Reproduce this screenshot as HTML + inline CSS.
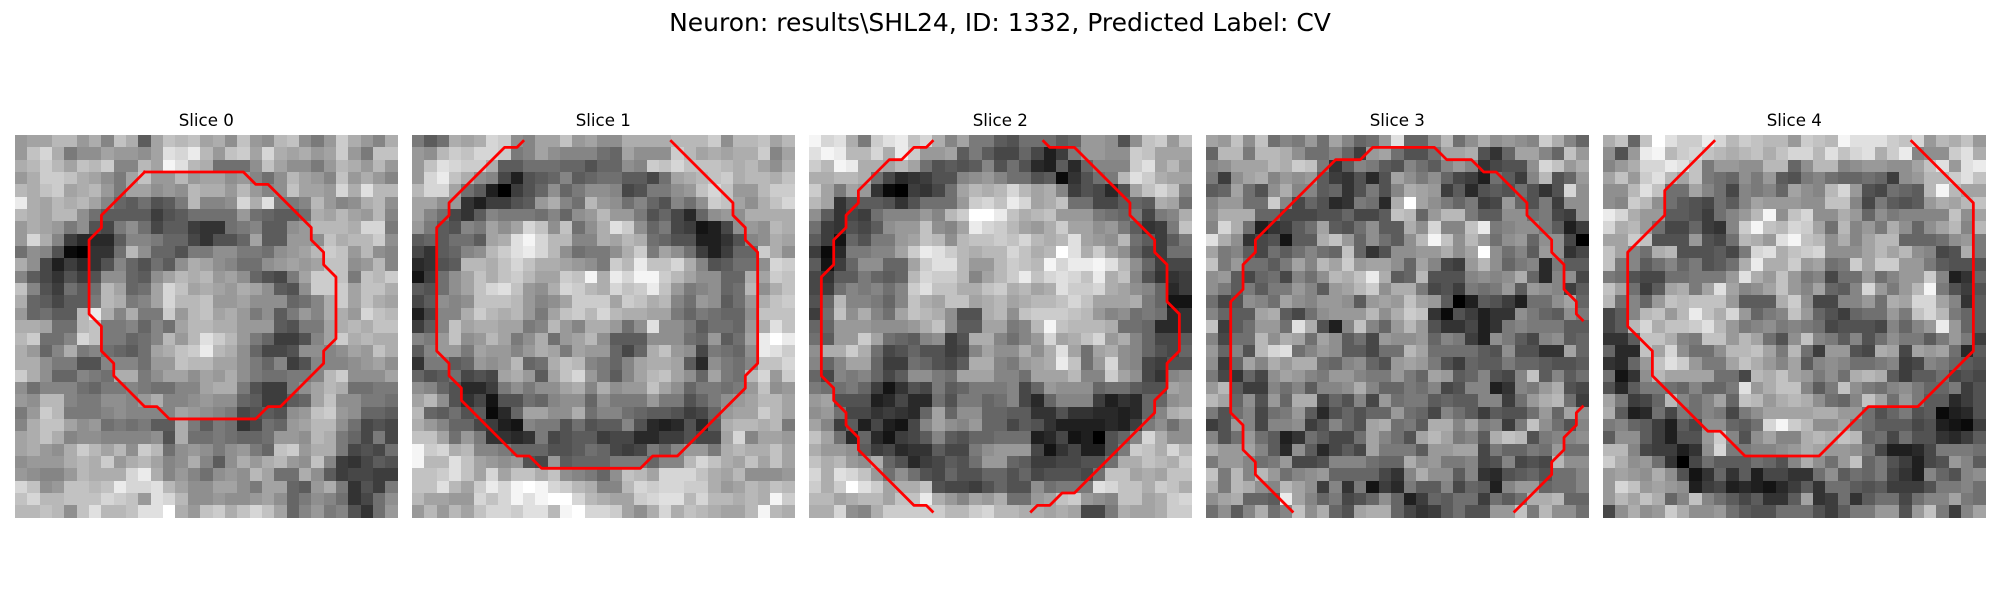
<!DOCTYPE html>
<html lang="en">
<head>
<meta charset="utf-8">
<title>Neuron slices</title>
<style>
html,body{margin:0;padding:0;background:#fff;width:2000px;height:600px;overflow:hidden}
svg{display:block}
text{font-family:"DejaVu Sans","Liberation Sans",sans-serif;fill:#000}
</style>
</head>
<body>
<svg id="figure" xmlns="http://www.w3.org/2000/svg" width="2000" height="600" viewBox="0 0 2000 600">
<rect x="0" y="0" width="2000" height="600" fill="#fff"/>
<text x="1000" y="31" font-size="25" text-anchor="middle">Neuron: results\SHL24, ID: 1332, Predicted Label: CV</text>
<text x="206.3" y="126" font-size="16.67" text-anchor="middle">Slice 0</text>
<text x="603.3" y="126" font-size="16.67" text-anchor="middle">Slice 1</text>
<text x="1000.3" y="126" font-size="16.67" text-anchor="middle">Slice 2</text>
<text x="1397.3" y="126" font-size="16.67" text-anchor="middle">Slice 3</text>
<text x="1794.3" y="126" font-size="16.67" text-anchor="middle">Slice 4</text>
</svg>
<script>
const slice0 = [
[15,16,16,18,18,15,17,13,19,17,9,16,19,18,19,16,17,14,19,15,14,18,19,14,12,15,20,17,15,13,17],
[15,19,21,17,12,14,14,16,15,15,14,16,22,21,23,18,15,19,20,16,21,17,16,17,15,16,20,15,12,19,19],
[17,18,20,18,16,19,18,20,13,13,18,16,24,22,18,17,11,11,11,14,19,16,14,14,12,15,18,17,15,18,15],
[15,17,20,20,19,17,16,14,12,16,19,15,15,18,15,16,16,14,15,13,11,14,18,16,15,13,19,15,17,15,13],
[18,17,19,20,16,17,18,15,12,16,16,14,15,14,18,17,17,15,18,15,13,14,19,16,16,15,21,17,22,18,18],
[23,17,16,18,17,18,16,13,10,9,11,8,9,12,18,13,13,14,21,17,22,12,12,13,18,15,13,14,17,18,14],
[18,17,16,18,18,14,11,9,9,9,9,6,8,9,11,11,11,11,15,11,10,9,9,11,17,16,18,16,15,18,13],
[15,17,16,15,12,14,8,7,12,14,11,7,9,9,6,5,5,11,12,13,9,9,14,15,18,18,18,17,21,21,12],
[15,21,17,13,6,4,4,4,9,13,13,12,10,10,7,5,8,8,10,16,9,9,15,15,14,19,17,18,18,20,14],
[11,14,13,8,1,0,5,5,11,18,14,10,10,8,12,12,14,14,12,12,11,14,15,16,18,20,19,15,18,14,13],
[17,14,7,3,6,4,5,8,13,10,8,11,9,14,17,16,14,13,11,11,14,15,16,15,16,19,19,14,15,18,13],
[13,9,7,5,8,6,8,14,14,10,9,14,16,18,17,18,15,16,14,10,8,7,12,16,20,20,19,12,19,18,20],
[19,13,8,6,11,9,11,18,16,10,11,16,21,19,16,17,16,15,17,16,14,9,8,14,20,20,20,16,19,19,17],
[17,10,9,7,9,9,12,18,17,12,13,16,21,18,18,19,15,15,16,14,14,14,10,11,13,17,20,16,19,17,16],
[15,10,11,9,9,18,23,17,13,17,12,12,20,15,18,19,16,17,15,12,14,9,12,15,13,17,17,15,21,19,18],
[17,17,16,11,11,18,19,12,12,13,10,13,11,16,18,18,17,17,15,15,15,9,8,12,12,16,17,18,17,19,19],
[18,20,11,11,13,21,19,12,12,10,11,13,18,15,18,22,20,18,15,12,10,6,6,8,13,16,20,17,18,17,17],
[17,15,10,13,17,12,13,11,10,9,11,16,17,19,20,23,18,17,14,10,7,7,8,14,14,13,14,16,15,19,17],
[17,17,14,12,12,8,8,13,13,13,11,15,15,19,18,18,16,16,14,12,10,13,6,8,13,13,13,14,15,16,14],
[20,17,14,10,10,13,12,11,17,17,12,14,16,16,14,16,15,17,14,12,11,11,12,12,13,18,20,14,14,14,16],
[14,11,13,13,13,11,10,12,12,13,12,11,11,13,13,16,17,17,12,8,6,6,12,14,16,18,17,11,11,12,12],
[15,14,18,18,13,12,12,14,14,13,15,17,13,13,14,15,14,14,10,9,6,6,9,10,16,19,14,14,12,12,11],
[12,15,20,18,12,12,12,13,14,13,13,13,13,16,15,14,13,12,7,8,9,8,14,15,19,20,15,14,10,10,9],
[13,17,19,19,16,14,15,11,12,11,12,9,9,17,12,9,12,11,5,7,11,10,15,16,18,18,14,11,7,8,7],
[16,17,19,17,13,14,14,13,13,13,13,14,8,17,11,11,12,11,10,10,11,15,15,14,18,17,12,10,7,12,7],
[16,17,15,14,17,20,18,16,18,14,20,18,11,14,15,14,12,14,15,12,10,19,20,15,17,17,12,7,8,7,11],
[14,15,15,15,17,18,17,20,15,17,18,16,13,14,17,13,9,14,17,15,17,18,15,14,19,13,6,5,7,9,8],
[15,14,13,13,15,18,17,17,17,21,23,17,13,15,13,11,14,15,14,18,16,11,11,17,14,9,6,7,7,6,6],
[21,19,14,15,19,19,18,19,23,21,21,22,18,16,14,14,16,16,14,12,16,16,10,9,15,17,12,5,8,6,12],
[19,21,18,18,19,19,19,21,20,19,15,22,21,18,14,14,15,14,14,15,16,14,10,12,14,13,11,5,7,11,14],
[18,18,19,18,14,19,22,18,18,19,22,22,25,17,15,19,20,17,19,21,19,16,10,13,15,12,13,8,5,11,15]
];
const slice1 = [
[12,9,11,17,16,17,21,20,14,13,16,16,19,15,16,14,14,17,17,17,17,18,18,18,20,14,18,18,19,16,18],
[15,14,18,20,19,21,21,20,12,13,16,14,13,13,13,11,10,16,14,14,14,20,18,16,17,16,17,17,20,13,16],
[15,19,22,21,20,20,17,9,9,11,11,11,10,10,8,10,10,14,13,20,19,21,19,19,19,18,17,18,16,14,17],
[15,21,23,19,17,14,13,7,3,8,9,10,13,9,10,11,11,9,9,7,11,16,17,18,19,20,17,18,18,17,19],
[18,21,21,16,11,9,3,0,6,8,10,14,10,12,14,14,13,7,8,12,12,14,15,19,21,19,15,15,18,20,20],
[16,16,14,15,5,3,6,6,8,9,15,17,13,11,18,15,14,11,13,10,8,13,11,14,20,19,16,14,17,19,21],
[16,13,11,7,5,9,13,12,12,12,11,13,10,14,15,18,15,15,12,8,10,7,4,10,14,15,14,17,17,17,17],
[15,12,9,8,13,12,16,14,16,21,19,14,19,11,14,17,22,20,14,10,12,7,6,2,3,7,14,15,14,18,17],
[9,10,9,11,11,9,16,17,22,24,21,18,18,13,13,17,16,18,17,11,10,8,8,3,3,5,8,13,14,17,16],
[7,5,9,10,13,14,18,20,22,23,21,18,14,11,12,12,14,17,20,12,16,14,11,6,3,6,10,10,20,17,14],
[4,5,8,9,18,18,17,19,21,19,17,17,16,15,14,12,20,18,23,19,19,21,17,13,8,9,11,11,14,21,20],
[2,6,11,14,16,19,17,19,20,18,16,16,20,19,24,17,23,21,24,24,20,18,16,14,14,10,10,17,16,20,19],
[9,8,11,14,16,19,21,22,19,15,14,17,21,20,18,17,21,19,20,23,19,15,12,13,14,10,11,18,14,17,19],
[7,9,14,13,14,19,19,19,18,15,13,14,16,20,20,20,16,20,19,17,18,13,11,15,14,9,11,15,17,19,20],
[3,7,13,13,17,20,18,17,18,15,12,16,19,20,18,21,18,17,17,16,16,12,10,12,11,10,10,14,19,19,19],
[6,9,13,19,16,17,17,16,16,12,13,18,15,13,17,17,15,11,14,22,14,14,12,9,11,11,10,15,17,22,19],
[13,12,15,19,14,15,18,16,12,14,17,11,15,16,18,14,9,9,9,14,14,14,11,10,15,9,11,16,23,25,23],
[9,13,15,15,12,16,15,15,13,15,17,16,12,16,15,15,10,7,10,17,19,15,14,7,12,11,10,14,23,22,20],
[5,12,12,9,10,15,14,15,18,10,11,17,19,18,13,12,10,13,16,17,17,16,9,4,14,12,11,13,19,19,21],
[10,8,9,11,7,8,7,16,17,15,9,16,19,21,15,12,9,13,16,18,19,16,14,10,16,12,11,18,21,15,20],
[14,13,10,8,4,4,6,12,14,12,14,14,16,17,13,17,14,15,15,19,16,14,10,12,12,11,12,15,19,14,15],
[16,18,14,8,5,7,2,8,8,11,10,13,14,14,10,14,12,12,12,15,12,12,8,10,12,14,15,16,18,18,16],
[18,10,9,11,8,9,1,4,10,16,16,14,14,17,11,13,13,11,10,9,9,8,6,7,10,15,16,16,20,18,16],
[17,15,13,10,10,7,6,3,2,13,12,12,8,11,8,9,9,13,8,4,3,4,8,4,9,17,18,18,17,18,12],
[19,19,16,11,15,12,5,5,4,5,12,7,8,9,9,6,7,7,4,4,6,6,8,7,7,16,21,13,16,16,15],
[24,20,21,17,18,13,13,12,10,10,10,8,8,9,11,10,7,6,7,12,10,13,15,15,12,17,18,17,17,19,16],
[24,18,18,22,19,16,15,14,15,8,7,15,9,10,10,10,12,12,12,10,13,13,18,21,19,17,16,19,16,19,16],
[19,19,20,22,19,16,21,16,19,19,17,19,14,13,12,10,14,19,18,16,21,21,21,19,17,16,18,14,14,14,15],
[19,19,22,18,16,20,23,21,24,25,24,21,20,18,17,13,13,18,21,20,21,21,20,20,17,15,16,18,17,19,18],
[18,16,16,15,15,21,19,21,24,22,24,25,25,21,18,17,16,16,20,21,22,22,18,21,18,18,17,18,17,24,20],
[15,18,15,18,16,19,21,21,20,22,22,18,24,25,21,21,20,16,14,17,21,17,19,18,17,16,16,18,24,18,17]
];
const slice2 = [
[24,21,22,17,12,20,22,23,19,21,17,13,16,12,12,9,8,11,11,11,9,10,15,15,14,8,14,19,20,15,19],
[22,24,23,18,18,21,17,23,20,15,15,16,9,12,9,7,7,10,7,3,6,12,15,15,14,14,20,19,16,16,16],
[20,18,24,23,17,17,16,18,16,11,8,9,8,9,13,8,11,8,4,3,9,4,10,13,13,13,20,22,16,18,15],
[17,17,18,18,17,11,7,4,5,6,8,8,13,14,15,13,11,11,8,9,1,5,8,11,12,18,22,20,17,16,16],
[20,16,12,16,15,5,1,0,6,5,7,11,16,18,17,18,21,18,16,17,13,6,8,7,4,8,16,19,21,19,13],
[18,16,5,8,9,9,8,5,8,11,11,11,15,20,21,19,23,21,16,17,19,11,11,7,7,9,10,9,17,16,11],
[14,9,5,7,6,11,13,13,13,15,13,18,20,25,25,23,19,17,18,19,15,15,15,12,11,10,12,7,12,13,17],
[11,6,5,8,7,9,14,15,15,19,14,13,16,23,21,20,18,16,15,17,20,16,16,14,15,12,9,5,6,12,19],
[9,6,2,10,8,12,12,15,16,19,18,14,18,19,19,20,19,21,18,17,18,22,16,15,14,18,11,9,6,9,12],
[6,1,4,12,12,13,13,16,20,23,22,20,18,17,18,18,21,19,17,18,25,22,17,20,16,14,10,7,6,11,11],
[9,2,6,10,14,14,10,10,16,20,22,22,18,15,15,18,20,19,18,24,21,23,23,24,22,18,14,10,6,7,7],
[7,5,9,9,12,10,9,10,18,21,20,20,18,13,16,18,20,23,19,21,22,21,19,23,17,19,13,8,5,5,6],
[7,6,11,13,12,13,11,13,20,22,19,19,17,17,19,20,17,18,16,17,22,20,20,21,17,16,14,13,10,4,6],
[8,10,18,13,13,12,10,13,19,17,16,19,19,16,17,18,16,17,18,18,19,21,19,16,16,16,17,12,10,2,2],
[6,11,19,14,17,13,11,16,19,18,17,14,8,8,17,18,14,19,20,20,20,19,18,15,13,14,11,12,11,4,5],
[10,10,15,15,15,14,14,14,15,17,19,14,9,9,16,16,12,13,18,24,19,18,18,18,17,11,11,10,4,4,5],
[11,9,15,15,20,16,11,10,9,13,14,6,8,17,17,13,11,13,15,21,16,17,19,21,15,17,13,10,7,7,9],
[14,17,17,20,17,11,7,8,10,8,8,6,7,13,16,14,14,17,14,17,22,16,11,16,17,14,13,10,8,7,10],
[13,10,13,16,16,10,6,6,11,10,8,7,9,17,17,13,12,15,16,17,23,19,11,15,21,14,13,7,6,8,8],
[10,7,13,12,13,10,7,9,14,14,12,11,16,16,16,13,13,11,16,16,16,18,13,13,20,16,14,7,5,13,14],
[12,11,11,12,10,6,2,5,8,7,12,9,10,12,12,12,13,7,10,15,14,14,14,10,11,11,9,8,8,16,15],
[15,16,8,8,8,3,4,7,4,4,11,8,12,12,10,11,13,7,4,10,13,13,13,6,3,5,4,10,10,14,15],
[14,15,11,7,7,5,6,5,4,10,16,10,14,14,10,10,9,9,5,5,8,5,5,4,4,3,4,10,13,17,18],
[16,13,6,9,3,7,3,2,7,13,16,14,13,15,10,10,7,9,8,5,3,3,3,3,4,3,6,12,14,11,14],
[19,16,11,4,10,4,2,6,7,9,13,9,8,10,10,11,11,11,3,4,7,2,3,0,8,10,13,21,17,14,14],
[17,15,15,14,9,6,7,4,5,5,9,7,7,12,14,15,15,15,7,2,5,7,3,3,8,12,20,19,17,21,18],
[19,17,18,15,14,17,10,8,4,6,7,9,8,11,15,15,10,9,6,6,7,7,8,8,11,17,17,19,18,17,20],
[21,17,22,21,19,15,11,14,11,8,7,10,8,8,10,10,8,10,7,8,8,8,7,11,19,19,16,17,16,19,19],
[20,17,20,25,22,20,16,17,17,19,8,7,7,6,8,10,8,8,14,11,12,12,12,22,21,19,19,17,20,19,17],
[18,18,16,17,18,18,16,19,19,23,17,15,13,16,15,17,11,11,15,16,19,20,15,14,13,19,19,16,17,20,21],
[17,17,21,14,13,17,20,20,20,20,20,18,18,20,21,18,18,17,17,16,17,16,7,7,12,17,16,16,17,20,20]
];
const slice3 = [
[16,15,19,14,19,11,13,12,15,11,16,13,10,11,15,22,10,10,14,18,11,14,17,14,15,14,13,20,17,13,10],
[10,18,18,12,18,18,17,14,11,11,13,10,6,15,16,11,8,8,11,16,16,17,8,5,10,16,16,13,10,19,15],
[13,14,16,16,16,18,17,20,19,12,5,9,13,12,9,8,13,11,9,13,15,13,5,7,8,8,14,21,19,15,17],
[12,6,14,16,17,13,15,14,15,9,6,5,8,4,8,16,14,12,14,10,7,6,3,11,9,6,13,18,8,10,15],
[9,10,16,11,8,14,17,13,13,9,10,5,8,12,8,13,17,16,15,6,9,4,8,9,8,11,8,5,8,21,14],
[13,15,15,11,11,20,13,7,10,8,4,5,12,11,4,17,25,16,14,12,10,12,6,7,15,10,8,12,6,14,14],
[14,17,17,17,10,10,7,7,7,8,8,10,7,7,9,19,18,10,15,18,18,12,9,9,14,14,11,12,7,6,14],
[13,21,17,11,3,5,6,9,11,16,9,8,11,14,9,9,17,14,21,13,13,19,23,12,13,14,14,12,9,3,6],
[22,17,14,5,7,8,2,9,9,17,19,15,10,14,11,9,14,18,24,19,14,18,15,11,14,15,10,14,14,7,0],
[16,12,13,9,7,11,9,11,13,11,10,19,10,5,8,14,14,15,15,17,14,16,25,14,11,13,9,15,14,5,7],
[19,12,15,11,11,9,12,16,13,18,16,20,15,16,16,14,10,16,13,7,6,15,18,14,10,12,13,4,12,9,9],
[14,15,9,7,10,11,7,13,11,14,18,17,19,23,17,9,10,18,8,8,8,13,14,13,14,17,10,4,13,14,7],
[14,12,9,12,9,12,12,15,13,9,15,16,18,20,14,17,17,12,7,8,6,12,11,12,15,9,15,14,13,6,9],
[11,7,8,14,13,11,16,14,13,15,15,14,9,15,16,15,19,16,15,9,0,3,9,8,6,3,11,11,14,16,10],
[13,10,9,9,16,17,9,7,11,14,15,15,15,18,14,17,20,19,5,1,8,6,3,5,5,14,12,10,9,14,12],
[19,6,9,11,15,15,11,22,17,8,3,13,19,13,10,15,18,15,8,5,5,7,3,5,12,13,12,12,12,9,9],
[13,7,11,11,18,14,17,16,11,16,14,9,11,7,15,14,14,15,10,13,12,6,3,14,12,9,7,13,14,9,10],
[15,10,13,8,18,21,22,11,13,15,14,9,9,7,11,11,18,16,11,11,11,11,9,8,14,8,8,5,5,16,10],
[14,6,10,16,13,17,15,17,17,11,10,13,14,10,8,15,16,15,12,8,6,10,9,9,12,10,10,9,8,8,9],
[12,7,5,10,7,14,16,15,13,12,15,15,13,12,12,15,12,10,16,15,9,10,13,8,7,13,19,9,13,9,11],
[15,18,9,6,6,13,11,13,9,13,13,14,17,13,10,10,12,11,13,7,8,13,13,3,5,13,12,15,17,8,7],
[18,16,10,14,8,15,10,17,17,7,10,8,13,7,15,11,12,12,9,10,9,9,13,13,6,11,15,17,18,11,6],
[12,8,11,13,7,11,12,15,9,4,8,10,8,10,10,15,11,10,7,13,11,9,6,9,8,8,11,15,10,16,14],
[6,8,15,13,7,13,13,14,6,8,13,10,8,16,17,11,12,9,17,17,13,16,12,13,6,12,19,14,11,8,13],
[13,8,11,15,11,9,3,5,11,9,7,7,11,16,13,11,8,16,18,16,12,13,9,17,19,18,8,12,13,13,14],
[17,15,15,16,13,9,4,14,9,4,7,9,7,16,12,12,12,9,15,15,16,16,7,12,10,10,12,11,15,11,11],
[12,15,15,13,11,12,15,7,7,8,13,13,13,11,10,10,17,14,15,12,12,13,7,8,13,7,8,7,18,14,14],
[19,12,18,13,18,15,11,13,14,15,10,10,10,10,7,5,13,17,14,14,9,13,5,4,8,9,10,8,11,11,13],
[17,12,18,17,14,13,18,16,14,6,13,5,12,2,6,4,12,9,9,13,7,10,9,3,13,15,15,10,11,11,13],
[14,16,17,10,10,9,23,16,13,10,12,7,8,10,14,10,3,6,10,9,11,11,6,11,9,11,17,17,18,10,10],
[11,14,9,13,17,11,13,19,14,17,10,8,16,17,17,10,7,5,6,9,11,8,8,15,15,19,12,18,14,14,11]
];
const slice4 = [
[17,19,10,19,25,22,20,20,23,21,18,20,19,18,18,15,20,19,18,24,22,22,22,20,19,21,15,18,17,19,15],
[14,8,15,23,24,18,20,21,19,18,17,18,19,17,19,21,21,18,22,19,21,22,17,20,23,13,14,14,20,22,17],
[13,15,17,21,21,23,22,19,12,15,15,14,14,18,18,10,14,18,18,13,14,15,15,14,14,16,19,22,15,22,23],
[16,19,15,20,22,18,16,19,12,11,10,14,12,15,9,8,12,13,11,10,10,11,10,6,14,15,18,18,20,22,19],
[14,14,18,22,19,11,11,16,13,11,7,13,12,13,10,16,14,13,18,21,15,8,7,11,10,9,18,24,18,16,16],
[14,13,20,18,14,11,9,8,7,11,9,13,16,15,15,15,14,14,19,19,13,7,12,9,8,9,15,17,16,18,19],
[23,21,17,15,15,9,9,8,6,11,13,15,18,24,14,19,21,14,14,17,15,10,14,12,13,13,13,13,19,14,16],
[21,17,18,15,11,7,7,10,6,5,13,20,24,19,18,21,20,16,11,18,13,15,12,17,14,10,14,16,18,13,18],
[16,16,20,19,8,8,8,15,8,7,11,18,17,15,22,24,19,18,14,17,13,16,18,18,10,10,10,11,14,15,12],
[19,16,13,11,17,18,8,8,8,9,7,12,21,22,17,19,20,21,14,14,14,16,18,16,18,14,13,7,8,17,12],
[19,12,13,9,11,13,10,12,8,9,11,17,23,17,17,20,15,16,11,12,20,16,20,20,15,15,12,9,8,8,8],
[12,11,8,7,7,11,11,12,12,12,15,22,17,15,19,15,12,13,7,11,11,15,11,13,15,15,20,13,3,5,10],
[19,16,11,6,9,16,17,12,16,22,16,13,14,16,19,15,13,16,10,9,13,21,15,12,15,18,24,12,8,6,8],
[18,11,13,10,15,19,18,19,19,19,15,9,9,9,17,20,14,7,7,13,13,15,11,17,16,21,21,16,13,5,9],
[7,9,13,18,19,15,18,23,19,17,21,15,10,12,13,19,15,10,8,6,10,11,11,15,12,19,21,18,12,10,9],
[7,9,18,21,17,19,19,20,22,18,15,12,13,14,12,13,12,11,7,8,8,8,7,13,10,13,15,23,15,10,9],
[5,5,9,19,19,17,13,12,19,19,15,18,16,11,8,14,19,13,12,9,13,8,11,14,12,12,9,12,15,12,6],
[10,4,4,19,16,21,14,11,11,14,18,18,19,16,12,18,11,6,15,15,8,7,17,16,7,16,15,16,11,4,9],
[5,4,10,15,19,22,20,15,12,12,16,19,17,15,13,16,9,13,14,13,11,11,12,13,6,7,13,12,10,9,8],
[11,2,5,14,18,16,16,16,16,11,11,7,18,17,19,16,15,12,14,11,17,18,17,9,6,9,9,11,7,8,7],
[8,4,9,12,12,11,10,13,10,10,12,22,15,17,19,19,13,9,12,19,14,12,11,13,14,12,10,10,12,6,8],
[16,12,6,7,10,18,13,11,13,16,10,19,18,15,17,18,17,14,11,10,13,19,16,11,15,12,9,9,4,6,8],
[17,9,3,4,11,7,12,11,13,12,7,12,14,16,16,16,16,17,17,15,15,11,8,10,12,8,9,1,3,4,8],
[12,13,10,9,6,3,9,7,14,14,10,9,11,21,24,20,18,14,14,16,12,11,9,9,9,7,8,3,2,1,6],
[9,14,14,9,6,3,8,8,15,20,13,8,14,16,13,13,17,18,17,19,18,10,11,7,11,8,8,5,4,6,9],
[18,18,13,7,6,6,3,5,14,21,12,12,13,13,14,15,17,16,15,15,14,12,7,3,3,4,7,12,12,12,11],
[20,17,14,15,11,5,0,7,11,9,9,9,11,10,8,13,17,14,11,15,19,10,12,8,6,3,7,8,15,13,9],
[15,16,15,14,17,14,8,2,5,10,5,9,3,7,7,5,5,11,14,9,11,10,12,7,5,3,13,10,8,13,14],
[15,21,19,15,16,15,14,3,6,7,3,4,3,2,4,6,9,5,11,11,9,8,9,6,6,6,8,12,12,13,11],
[15,18,16,19,17,10,13,19,13,11,9,7,9,5,5,9,16,5,6,11,5,9,11,11,7,11,13,13,16,12,11],
[7,14,17,14,15,20,17,14,14,15,11,9,8,8,11,11,11,8,6,9,12,12,15,15,8,15,19,12,6,13,16]
];

const contour0a = [[10,2.5],[18,2.5],[19,3.5],[20,3.5],[23.5,7],[23.5,8],[24.5,9],[24.5,10],[25.5,11],[25.5,16],[24.5,17],[24.5,18],[21,21.5],[20,21.5],[19,22.5],[12,22.5],[11,21.5],[10,21.5],[7.5,19],[7.5,18],[6.5,17],[6.5,15],[5.5,14],[5.5,8],[6.5,7],[6.5,6],[10,2.5]];
const contour1a = [[8.5,0],[8,0.5],[7,0.5],[2.5,5],[2.5,6],[1.5,7],[1.5,17],[2.5,18],[2.5,19],[3.5,20],[3.5,21],[8,25.5],[9,25.5],[10,26.5],[18,26.5],[19,25.5],[21,25.5],[26.5,20],[26.5,19],[27.5,18],[27.5,9],[26.5,8],[26.5,7],[25.5,6],[25.5,5],[20.5,0]];
const contour2a = [[9.5,0],[9,0.5],[8,0.5],[7,1.5],[6,1.5],[3.5,4],[3.5,5],[2.5,6],[2.5,7],[1.5,8],[1.5,10],[0.5,11],[0.5,19],[1.5,20],[1.5,21],[2.5,22],[2.5,23],[3.5,24],[3.5,25],[8,29.5],[9,29.5],[9.5,30]];
const contour2b = [[17.5,30],[18,29.5],[19,29.5],[20,28.5],[21,28.5],[27.5,22],[27.5,21],[28.5,20],[28.5,18],[29.5,17],[29.5,14],[28.5,13],[28.5,10],[27.5,9],[27.5,8],[25.5,6],[25.5,5],[21,0.5],[19,0.5],[18.5,0]];
const contour3a = [[30,14.5],[29.5,14],[29.5,13],[28.5,12],[28.5,10],[27.5,9],[27.5,8],[25.5,6],[25.5,5],[23,2.5],[22,2.5],[21,1.5],[19,1.5],[18,0.5],[13,0.5],[12,1.5],[10,1.5],[3.5,8],[3.5,9],[2.5,10],[2.5,12],[1.5,13],[1.5,22],[2.5,23],[2.5,25],[3.5,26],[3.5,27],[6.5,30]];
const contour3b = [[24.5,30],[27.5,27],[27.5,26],[28.5,25],[28.5,24],[29.5,23],[29.5,22],[30,21.5]];
const contour4a = [[8.5,0],[4.5,4],[4.5,6],[1.5,9],[1.5,15],[3.5,17],[3.5,19],[8,23.5],[9,23.5],[11,25.5],[17,25.5],[21,21.5],[25,21.5],[29.5,17],[29.5,5],[24.5,0]];

const slices = [slice0, slice1, slice2, slice3, slice4];
const contours = [[contour0a], [contour1a], [contour2a, contour2b], [contour3a, contour3b], [contour4a]];

const SVGNS = 'http://www.w3.org/2000/svg';
const figure = document.getElementById('figure');
const panelLeft = function (p) { return 15 + 397 * p; };
const panelTop = 135;
const panelSize = 382.7;
const cellSize = function (grid) { return panelSize / grid.length; };
const xScale = function (p, grid, col) { return panelLeft(p) + col * cellSize(grid); };
const yScale = function (grid, row) { return panelTop + row * cellSize(grid); };
const grayScale = function (v) { return Math.max(0, Math.min(255, Math.round(v * 10.2))); };

slices.forEach(function (grid, p) {
  const group = document.createElementNS(SVGNS, 'g');
  
  
  group.setAttribute('shape-rendering', 'crispEdges');
  grid.forEach(function (rowValues, r) {
    rowValues.forEach(function (v, c) {
      const rect = document.createElementNS(SVGNS, 'rect');
      const x0 = Math.round(xScale(p, grid, c));
      const x1 = Math.round(xScale(p, grid, c + 1));
      const y0 = Math.round(yScale(grid, r));
      const y1 = Math.round(yScale(grid, r + 1));
      const g = grayScale(v);
      rect.setAttribute('x', x0);
      rect.setAttribute('y', y0);
      rect.setAttribute('width', x1 - x0);
      rect.setAttribute('height', y1 - y0);
      rect.setAttribute('fill', 'rgb(' + g + ',' + g + ',' + g + ')');
      
      
      group.appendChild(rect);
    });
  });
  figure.appendChild(group);

  contours[p].forEach(function (line) {
    const path = document.createElementNS(SVGNS, 'polyline');
    const pts = line.map(function (pt) {
      return xScale(p, grid, pt[0] + 0.5).toFixed(2) + ',' + yScale(grid, pt[1] + 0.5).toFixed(2);
    }).join(' ');
    path.setAttribute('points', pts);
    path.setAttribute('fill', 'none');
    path.setAttribute('stroke', '#ff0000');
    path.setAttribute('stroke-width', '2.78');
    path.setAttribute('stroke-linejoin', 'round');
    path.setAttribute('stroke-linecap', 'square');
    
    
    figure.appendChild(path);
  });
});
</script>
</body>
</html>
